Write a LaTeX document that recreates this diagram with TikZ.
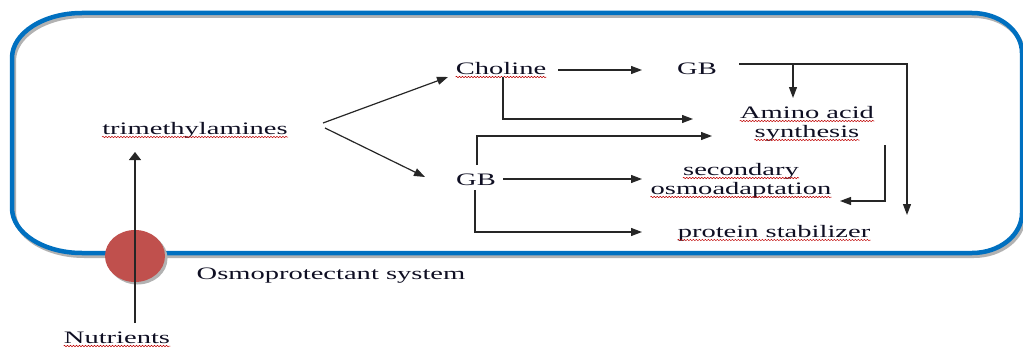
\documentclass[tikz,border=0pt]{standalone}
\usepackage{fontspec}
\setmainfont{Liberation Serif}
\usetikzlibrary{arrows.meta,decorations.pathmorphing}
\definecolor{frameblue}{RGB}{0,112,192}
\definecolor{cellred}{RGB}{192,80,77}
\definecolor{txt}{RGB}{15,15,35}
\tikzset{
  lbl/.style={font=\fontsize{17.5}{20}\selectfont, xscale=1.63, inner sep=0pt, anchor=base, text=txt},
  conn/.style={line width=1.2pt, draw=black!85},
  arr/.style={conn, -{Triangle[length=11pt,width=8pt]}},
  squig/.style={draw=red!75!black, line width=0.5pt, decorate, decoration={snake, amplitude=0.7pt, segment length=3pt}},
  framepen/.style={line width=4.5pt, draw=frameblue},
}
\begin{document}
\begin{tikzpicture}[x=1pt,y=1pt]
\useasboundingbox (0,0) rectangle (1023,349);
% frame shadow and frame
\draw[line width=4pt, draw=black!30, shift={(2,-3)}] (82,336) -- (972,336) arc[start angle=90,end angle=0,x radius=50,y radius=40] -- (1022,136) arc[start angle=0,end angle=-90,x radius=50,y radius=40] -- (82,96) arc[start angle=270,end angle=180,x radius=70,y radius=45] -- (12,141) -- (12,291) arc[start angle=180,end angle=90,x radius=70,y radius=45] -- cycle;
\draw[framepen] (82,336) -- (972,336) arc[start angle=90,end angle=0,x radius=50,y radius=40] -- (1022,136) arc[start angle=0,end angle=-90,x radius=50,y radius=40] -- (82,96) arc[start angle=270,end angle=180,x radius=70,y radius=45] -- (12,141) -- (12,291) arc[start angle=180,end angle=90,x radius=70,y radius=45] -- cycle;
% transporter
\fill[black!30] (137.5,90.5) ellipse [x radius=30, y radius=26];
\fill[cellred] (135,93) ellipse [x radius=30, y radius=26];
% labels
\node[lbl] (nut) at (117,6) {Nutrients};
\node[lbl] (tri) at (195,215) {trimethylamines};
\node[lbl] (osm) at (331,70) {Osmoprotectant system};
\node[lbl] (cho) at (501,275) {Choline};
\node[lbl] (gbt) at (697,275) {GB};
\node[lbl] (gbl) at (476,164) {GB};
\node[lbl] (amA) at (807,231) {Amino acid};
\node[lbl] (amB) at (807,212) {synthesis};
\node[lbl] (secA) at (741,174) {secondary};
\node[lbl] (secB) at (741,155) {osmoadaptation};
\node[lbl] (pro) at (774,112) {protein stabilizer};
% spell-check squiggles
\foreach \n in {nut,tri,cho,amA,amB,secA,secB,pro}
  \draw[squig] ([yshift=-3pt]\n.base west) -- ([yshift=-3pt]\n.base east);
% connector end points
\coordinate (nutOut) at (135,26);
\coordinate (triIn) at (135,197);
\coordinate (forkA) at (323,226);
\coordinate (forkB) at (325,221);
\coordinate (choIn) at (448,272);
\coordinate (gblIn) at (425,172);
\coordinate (choR) at (558,279);
\coordinate (gbtIn) at (642,279);
\coordinate (choD) at (503,272);
\coordinate (amIn1) at (693,230);
\coordinate (gblU) at (477,184);
\coordinate (amIn2) at (712,213);
\coordinate (gblR) at (503,170);
\coordinate (secIn) at (642,170);
\coordinate (gblD) at (475,159);
\coordinate (proIn) at (642,117);
\coordinate (gbtR) at (739,285);
\coordinate (gbtCorner) at (907,285);
\coordinate (proIn2) at (907,134);
\coordinate (gbtBr) at (793,285);
\coordinate (amTop) at (793,251);
\coordinate (amOut) at (885,204);
\coordinate (secIn2) at (840,148);
% connectors
\draw[conn, -{Triangle[length=8pt,width=12pt]}] (nutOut) -- (triIn);
\draw[arr] (forkA) -- (choIn);
\draw[arr] (forkB) -- (gblIn);
\draw[arr] (choR) -- (gbtIn);
\draw[arr] (choD) |- (amIn1);
\draw[arr] (gblU) |- (amIn2);
\draw[arr] (gblR) -- (secIn);
\draw[arr] (gblD) |- (proIn);
\draw[arr] (gbtR) -- (gbtCorner) -- (proIn2);
\draw[arr] (gbtBr) -- (amTop);
\draw[arr] (amOut) |- (secIn2);
\end{tikzpicture}
\end{document}
